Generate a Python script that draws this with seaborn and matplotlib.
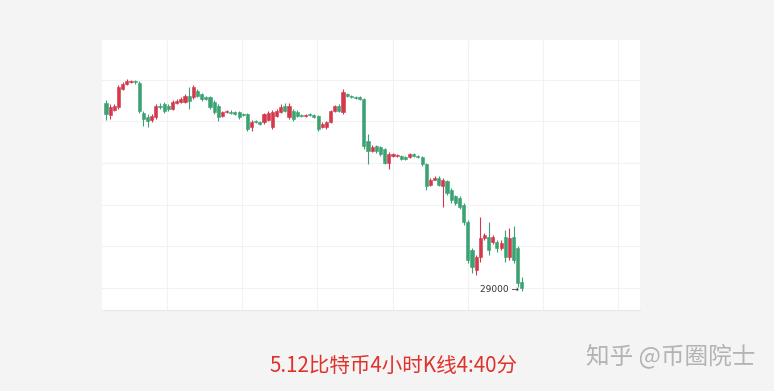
import matplotlib
matplotlib.use("Agg")
import matplotlib.pyplot as plt
import seaborn as sns
import numpy as np
import pandas as pd

# ---- data (BTC 4h candles) ----
opens = [37870, 37290, 37530, 37680, 38540, 38780, 38880, 38930, 38830, 37390,
         37190, 37050, 37190, 37720, 37820, 37720, 37580, 37870, 37920, 37920,
         38210, 38160, 38450, 38300, 38160, 38160, 37920, 37720, 37240, 37430,
         37430, 37430, 37430, 37340, 37340, 36710, 37000, 36950, 36950, 37050,
         36710, 37240, 37430, 37720, 37190, 37480, 37430, 37290, 37240, 37340,
         37290, 37240, 36710, 36710, 36950, 37480, 37720, 37430, 38300, 38210,
         38160, 38160, 38060, 36040, 35560, 35800, 35750, 35650, 35020, 35310,
         35310, 35310, 35270, 35270, 35410, 35310, 35270, 34930, 33960, 34200,
         34300, 33870, 34110, 33720, 33390, 33340, 33000, 32180, 30830, 29870,
         30490, 31410, 31460, 31220, 31220, 30930, 31460, 30490, 31460, 30930,
         29290]
closes = [37340, 37680, 37720, 38640, 38780, 38930, 38930, 38880, 37480, 37100,
          37000, 37240, 37720, 37680, 37480, 37580, 37920, 37960, 38060, 38210,
          37960, 38640, 38210, 38060, 38060, 37680, 37430, 37190, 37430, 37480,
          37390, 37340, 37190, 37290, 36620, 36950, 36950, 36860, 37340, 37390,
          37430, 37480, 37680, 37480, 37720, 37100, 37240, 37240, 37290, 37290,
          37190, 36620, 36860, 36950, 37480, 37720, 37480, 38400, 38210, 38160,
          38110, 38060, 35800, 35560, 35750, 35560, 35410, 35020, 35410, 35410,
          35360, 35170, 35170, 35410, 35310, 35270, 34930, 33870, 34200, 34300,
          33960, 34200, 33580, 33240, 33100, 32900, 32180, 30350, 30010, 30490,
          31410, 31550, 30830, 31460, 30930, 31170, 30490, 31410, 30350, 29240,
          29000]
highs = [38010, 37820, 37820, 38740, 38880, 39020, 38980, 38980, 38930, 37480,
         37340, 37340, 37820, 37870, 37920, 37820, 38010, 38060, 38160, 38300,
         38640, 38740, 38540, 38350, 38210, 38210, 38010, 37820, 37480, 37530,
         37530, 37480, 37480, 37390, 37390, 37050, 37050, 37000, 37390, 37480,
         37530, 37580, 37820, 37870, 37870, 37580, 37530, 37340, 37340, 37390,
         37340, 37290, 36950, 37000, 37530, 37770, 37820, 38540, 38350, 38250,
         38210, 38210, 38110, 36370, 35840, 35840, 35800, 35700, 35510, 35460,
         35410, 35360, 35310, 35460, 35460, 35360, 35310, 34980, 34300, 34350,
         34350, 34300, 34200, 33820, 33480, 33390, 33100, 32280, 30930, 30590,
         32420, 31650, 32180, 31550, 31310, 31310, 31800, 31890, 31990, 31020,
         29530]
lows = [37050, 37100, 37480, 37580, 38490, 38740, 38830, 38780, 37390, 36760,
        36710, 36950, 37100, 37580, 37390, 37480, 37530, 37820, 37870, 37870,
        37580, 38060, 38160, 37960, 38010, 37580, 37340, 37000, 37190, 37390,
        37340, 37290, 37100, 37240, 36520, 36520, 36900, 36810, 36860, 37000,
        36620, 37190, 37390, 37430, 37100, 37000, 37190, 37190, 37190, 37240,
        37150, 36520, 36660, 36620, 36900, 37430, 37430, 37340, 38160, 38110,
        38060, 38010, 35650, 34930, 35510, 35460, 35310, 34930, 34690, 35270,
        35270, 35120, 35120, 35220, 35270, 35220, 34830, 33720, 33870, 34160,
        33870, 32900, 33480, 33100, 33000, 32810, 32040, 30200, 29720, 29630,
        30250, 31310, 30590, 31120, 30740, 30830, 30250, 30350, 30200, 29050,
        28860]
price_gridlines = [29000, 31000, 33000, 35000, 37000, 39000]
last_label = "29000 →"
caption = "5.12比特币4小时K线4:40分"
watermark = "知乎 @币圈院士"

df = pd.DataFrame({"open": opens, "close": closes, "high": highs, "low": lows})
df["idx"] = np.arange(len(df))
df["up"] = df["close"] >= df["open"]

sns.set_style("white")
plt.rcParams["font.family"] = ["Noto Sans CJK SC", "DejaVu Sans"]

RED = "#d3384b"
GREEN = "#3ba373"
BG = "#f4f4f4"

fig = plt.figure(figsize=(7.74, 3.91), dpi=100, facecolor=BG)
ax = fig.add_axes([102 / 774, 1 - 310 / 391, (640 - 102) / 774, (310 - 40) / 391])
ax.set_facecolor("white")

colors = [RED if u else GREEN for u in df["up"]]
# wicks
ax.vlines(df["idx"], df["low"], df["high"], colors=colors, linewidth=0.8, zorder=2)
# bodies
bottoms = np.minimum(df["open"], df["close"])
heights = np.abs(df["close"] - df["open"])
ax.bar(df["idx"], heights, bottom=bottoms, width=0.75, color=colors,
       edgecolor=colors, linewidth=0.4, zorder=3)

ax.set_xlim(-0.96, 128.4)
ax.set_ylim(27940, 40900)
ax.set_xticks([14.7, 32.8, 50.8, 68.9, 87.0, 105.1, 123.1])
ax.set_yticks(price_gridlines)
ax.tick_params(length=0, labelbottom=False, labelleft=False)
ax.grid(True, color="#f2f2f2", linewidth=0.8, zorder=0)
for s in ax.spines.values():
    s.set_visible(False)
ax.spines["bottom"].set_visible(True)
ax.spines["bottom"].set_color("#e8e8e8")
ax.spines["bottom"].set_linewidth(0.8)

ax.text(len(df) - 1.6, 28920, last_label, ha="right", va="center",
        fontsize=6.5, color="#333333", family=["DejaVu Sans"], zorder=4)

fig.text(393 / 774, 1 - 366 / 391, caption, ha="center", va="center",
         fontsize=14.8, color="#e0312a", fontweight="medium")
fig.text(671 / 774, 1 - 356 / 391, watermark, ha="center", va="center",
         fontsize=17, color="#b3b3b3")

fig.savefig("out.png", dpi=100, facecolor=BG)
